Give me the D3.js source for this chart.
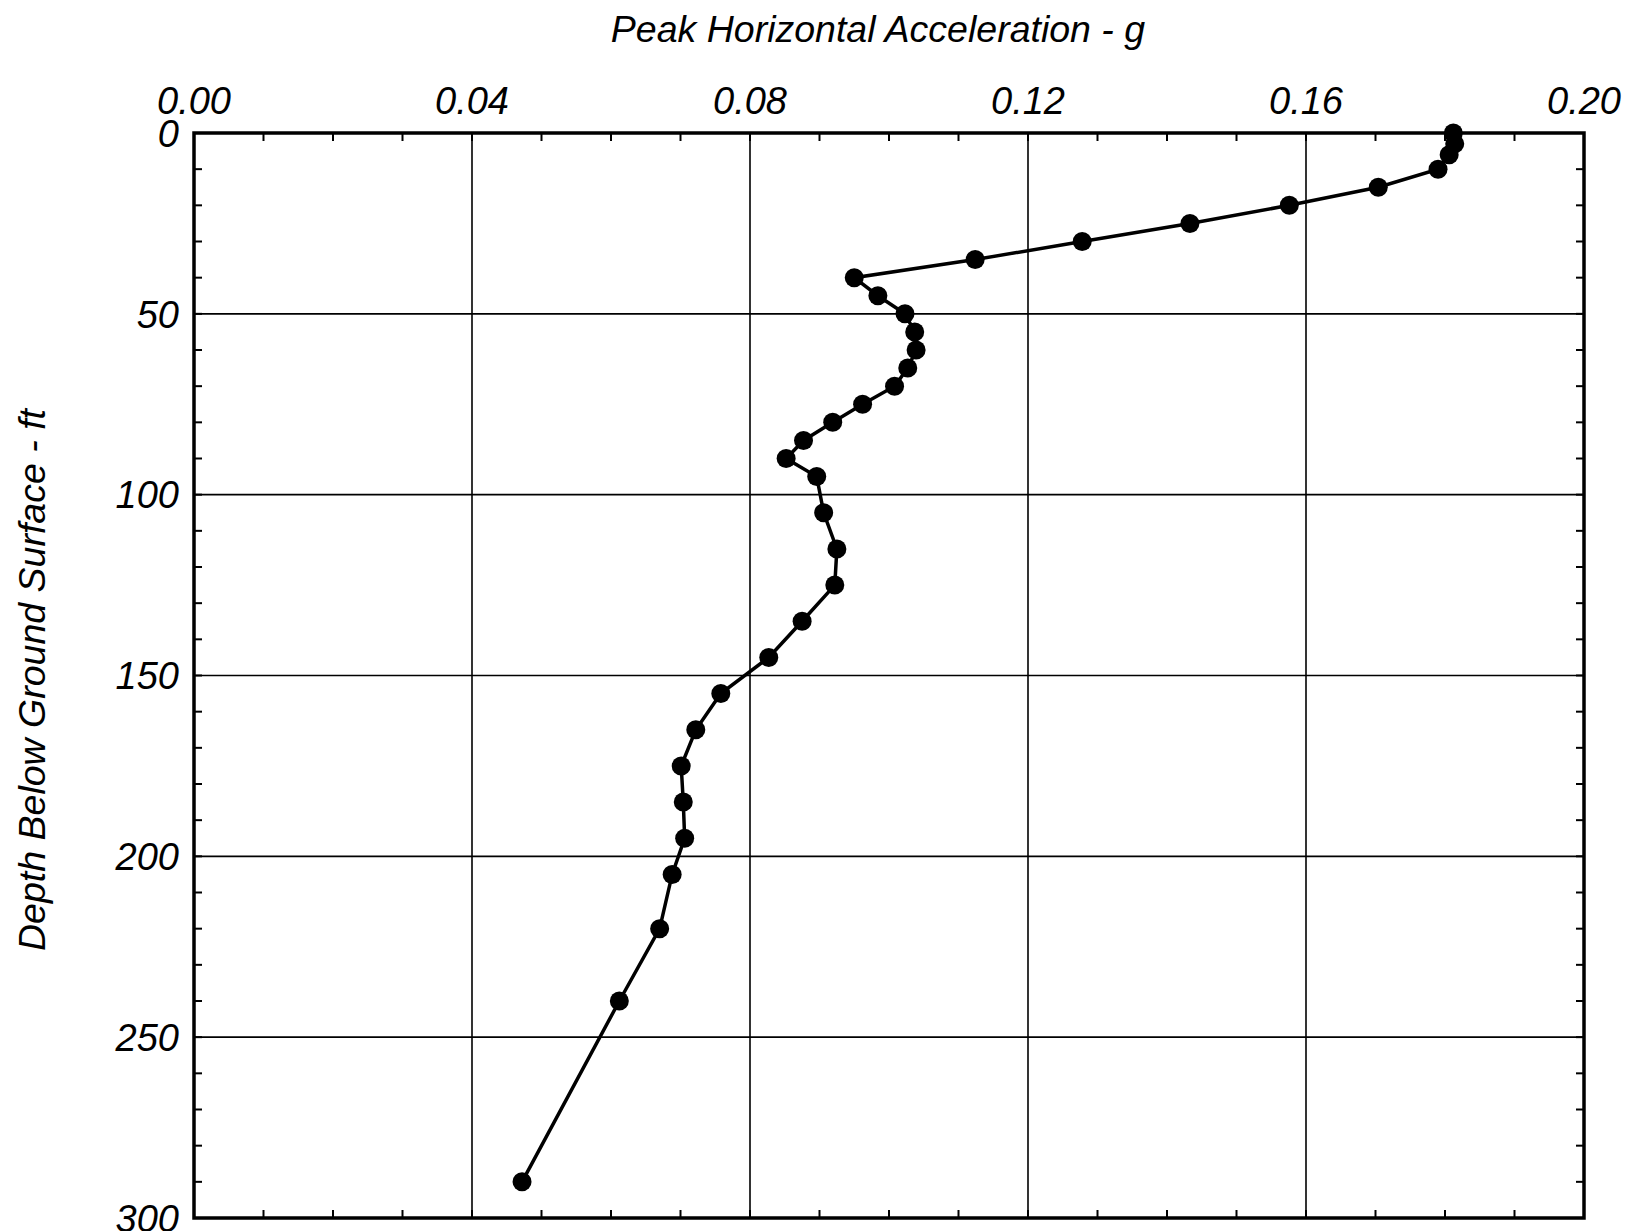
<!DOCTYPE html>
<html lang="en">
<head>
    <meta charset="UTF-8">
    <title>Peak Horizontal Acceleration vs Depth</title>
    <script src="https://d3js.org/d3.v7.min.js"></script>
    <style>
        body {
            margin: 0;
            background: #ffffff;
        }
        svg text {
            font-family: Arial, "Liberation Sans", sans-serif;
            font-style: italic;
            fill: #000;
        }
        .grid line {
            stroke: #000;
            stroke-width: 1.6px;
        }
        .tick-mark {
            stroke: #000;
            stroke-width: 2px;
        }
    </style>
</head>
<body>
    <svg width="1629" height="1231"></svg>
    <script>
        // depth below ground surface (ft) and peak horizontal acceleration (g)
        const depths = [0, 3, 6, 10, 15, 20, 25, 30, 35, 40, 45, 50, 55, 60, 65, 70, 75, 80,
                        85, 90, 95, 105, 115, 125, 135, 145, 155, 165, 175, 185, 195, 205, 220, 240, 290];
        const accel  = [0.1812, 0.1814, 0.1806, 0.1790, 0.1704, 0.1576, 0.1433, 0.1278, 0.1124, 0.0950,
                        0.0984, 0.1023, 0.1037, 0.1039, 0.1027, 0.1008, 0.0962, 0.0919, 0.0877, 0.0852,
                        0.0896, 0.0906, 0.0925, 0.0922, 0.0875, 0.0827, 0.0758, 0.0722, 0.0701, 0.0704,
                        0.0706, 0.0688, 0.0670, 0.0612, 0.0472];

        const xMajor = [0, 0.04, 0.08, 0.12, 0.16, 0.20];
        const yMajor = [0, 50, 100, 150, 200, 250, 300];
        const xMinor = d3.range(0, 0.2001, 0.01);
        const yMinor = d3.range(0, 300.1, 10);

        const margin = {left: 194, top: 133, right: 45, bottom: 13};
        const svg = d3.select("svg"),
            width = +svg.attr("width"),
            height = +svg.attr("height");

        const x = d3.scaleLinear().domain([0, 0.20]).range([margin.left, width - margin.right]);
        const y = d3.scaleLinear().domain([0, 300]).range([margin.top, height - margin.bottom]);

        const x0 = x(0), x1 = x(0.20), y0 = y(0), y1 = y(300);

        // grid lines
        const grid = svg.append("g").attr("class", "grid");
        grid.selectAll(".vg").data(xMajor.slice(1, -1)).enter().append("line")
            .attr("x1", d => x(d)).attr("x2", d => x(d))
            .attr("y1", y0).attr("y2", y1);
        grid.selectAll(".hg").data(yMajor.slice(1, -1)).enter().append("line")
            .attr("x1", x0).attr("x2", x1)
            .attr("y1", d => y(d)).attr("y2", d => y(d));

        // inward minor ticks on all four sides
        const tl = 8;
        const ticks = svg.append("g");
        xMinor.forEach(v => {
            ticks.append("line").attr("class", "tick-mark")
                .attr("x1", x(v)).attr("x2", x(v)).attr("y1", y0).attr("y2", y0 + tl);
            ticks.append("line").attr("class", "tick-mark")
                .attr("x1", x(v)).attr("x2", x(v)).attr("y1", y1).attr("y2", y1 - tl);
        });
        yMinor.forEach(v => {
            ticks.append("line").attr("class", "tick-mark")
                .attr("x1", x0).attr("x2", x0 + tl).attr("y1", y(v)).attr("y2", y(v));
            ticks.append("line").attr("class", "tick-mark")
                .attr("x1", x1).attr("x2", x1 - tl).attr("y1", y(v)).attr("y2", y(v));
        });

        // frame
        svg.append("rect")
            .attr("x", x0).attr("y", y0)
            .attr("width", x1 - x0).attr("height", y1 - y0)
            .attr("fill", "none").attr("stroke", "#000").attr("stroke-width", 3.5);

        // tick labels
        svg.append("g").selectAll("text").data(xMajor).enter().append("text")
            .attr("x", d => x(d)).attr("y", 114)
            .attr("text-anchor", "middle")
            .style("font-size", "38px")
            .text(d => d.toFixed(2));
        svg.append("g").selectAll("text").data(yMajor).enter().append("text")
            .attr("x", 179).attr("y", d => y(d))
            .attr("dy", "0.36em")
            .attr("text-anchor", "end")
            .style("font-size", "38px")
            .text(d => d);

        // axis titles
        svg.append("text")
            .attr("x", 878).attr("y", 42)
            .attr("text-anchor", "middle")
            .style("font-size", "37.5px")
            .text("Peak Horizontal Acceleration - g");
        svg.append("text")
            .attr("transform", "translate(45," + 680 + ") rotate(-90)")
            .attr("text-anchor", "middle")
            .style("font-size", "37.5px")
            .text("Depth Below Ground Surface - ft");

        // data line and points
        const pts = depths.map((d, i) => ({depth: d, g: accel[i]}));
        svg.append("path")
            .datum(pts)
            .attr("fill", "none")
            .attr("stroke", "#000")
            .attr("stroke-width", 3.5)
            .attr("d", d3.line().x(d => x(d.g)).y(d => y(d.depth)));
        svg.append("g").selectAll("circle").data(pts).enter().append("circle")
            .attr("cx", d => x(d.g)).attr("cy", d => y(d.depth))
            .attr("r", 9.5)
            .attr("fill", "#000");
    </script>
</body>
</html>
